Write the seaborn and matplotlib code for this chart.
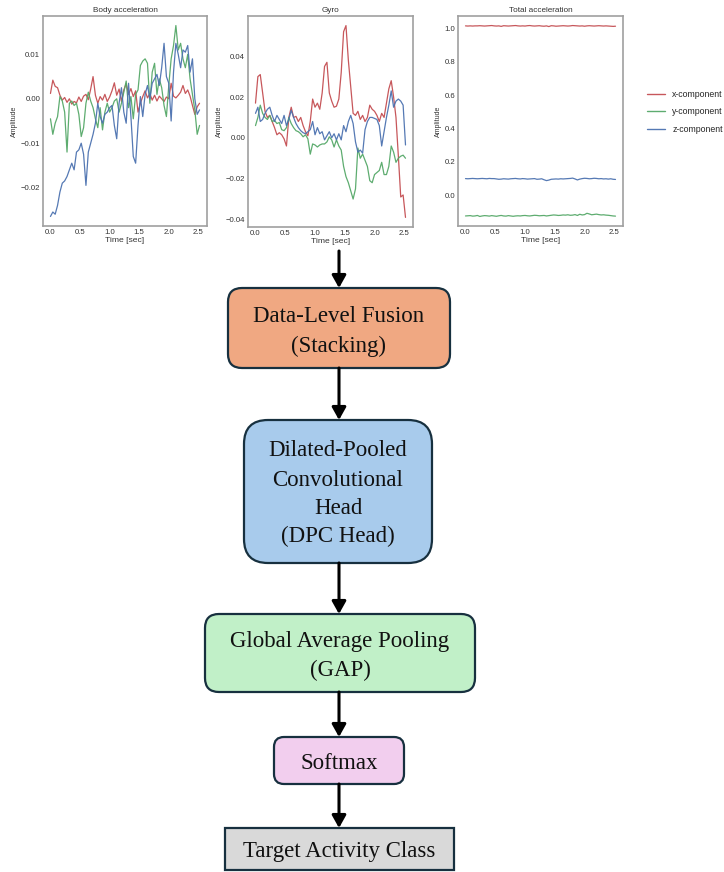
import numpy as np
import pandas as pd
import matplotlib
matplotlib.use("Agg")
import matplotlib.pyplot as plt
from matplotlib.patches import FancyBboxPatch, FancyArrowPatch
import seaborn as sns

# ---------------------------------------------------------------- data
# one window of 64 samples, 0.04 s apart
time_sec = np.round(np.arange(64) * 0.04, 2)

components = ["x-component", "y-component", "z-component"]

# body acceleration (values in 1e-3 g)
body_x = [1.2, 4.2, 2.8, 2.5, 0.8, -0.3, 0.3, -0.8, 0.0, -1.2, -0.6, -0.9, 0.4, -0.6, 0.6, 1.0,
          -0.2, 2.2, 5.0, 0.8, -1.0, 0.5, -0.3, 1.0, -0.6, 0.4, 1.8, 3.6, 0.8, 2.2, -0.6, 2.0,
          3.4, 1.0, 2.3, 0.5, 1.8, -3.0, -1.0, 0.5, 1.8, 0.2, 1.2, -0.3, 0.8, -0.5, 0.6, 0.0,
          -0.6, 0.4, 0.0, 3.5, 0.6, 0.2, 0.8, 1.5, 3.0, 1.2, 2.0, 0.6, -1.5, -3.5, -1.8, -1.0]
body_y = [-4.5, -8.0, -5.5, -4.0, 0.5, -0.5, -3.0, -12.0, -1.0, -0.5, -1.5, -1.0, -3.5, -8.5, -6.5, -1.0,
          1.5, -0.5, -2.0, -4.5, -6.5, -2.0, -7.0, -3.0, -1.0, -3.0, -2.0, -0.5, 0.0, -3.0, -1.0, 1.5,
          4.0, -2.0, 0.5, -4.5, 1.0, 2.0, 7.5, 8.5, 9.0, 8.0, -1.0, 6.0, 8.0, 1.0, 4.5, 2.5,
          -1.5, -4.0, 3.0, 9.0, 12.0, 16.5, 11.0, 12.5, 9.0, 7.0, 10.0, 4.5, 1.0, -2.5, -8.0, -6.0]
body_z = [-26.5, -25.5, -26.0, -24.0, -21.0, -19.0, -18.5, -17.5, -16.0, -14.5, -16.0, -12.0, -11.5, -10.0, -12.5, -19.5,
          -12.0, -10.0, -8.0, -5.5, -1.0, -4.0, -5.5, -3.5, -3.0, -2.0, -1.5, -6.0, -9.0, -1.0, 2.5, -3.0,
          -5.5, 3.5, -4.0, -13.0, -14.5, -6.0, 0.5, -4.0, 1.0, 3.0, 0.0, 3.5, 4.5, 5.5, 3.0, 7.0,
          12.5, 5.0, 3.5, -5.0, 6.0, 12.5, 10.0, 7.0, 11.0, 10.5, 12.0, 6.0, 9.0, 0.0, -3.5, -2.5]

# gyroscope (values in 1e-3 rad/s)
gyro_x = [17, 30, 31, 22, 13, 10, 11, 8, 5, 1.5, 2.5, 1.5, -0.5, -4.0, 10, 15,
          10, 10.5, 8, 10, 6, 3, 1, 8, 19, 15, 17, 14, 22, 35, 37, 22,
          18, 15, 15.5, 19, 32, 52, 55, 38, 25, 12, 11, 13, 9, 11, 8, 10,
          16, 14, 13, 11, 8, 12, 10, 17, 24, 28, 20, 10, -9, -29, -28, -39]
gyro_y = [6, 10, 16, 12, 10, 9, 11, 8, 8.5, 7, 7.5, 4, 3.5, 5, 10, 7,
          5, 3.5, 3, 2, 0.5, 1.5, -0.5, -8, -3, -3.5, -4.5, -3.5, -3, -3, -2, 0.5,
          -1, -4.5, -1, -4, -6, -14, -19, -22, -26, -30, -25, -5, -10, -8, -11, -14,
          -21, -22, -18, -17, -16, -12, -18, -18, -14, -4, -7, -12, -10, -9, -8.5, -10]
gyro_z = [12, 15, 8, 9, 12, 14, 15, 11, 8, 11, 9, 7, 11, 6, 9, 13.5,
          10, 7, 5, 3.5, 2.5, 2, 3, 4, 8, 1.5, 5, 2, 3, -1, 1, 3,
          0, 2, -1, 2, -1, 6, 3, 8, 11, 7, -2, -7, -6, -7.5, 4, 8,
          10, 10, 9.5, 9, 6, -4, 3, 10, 16, 23, 15, 18, 19, 18, 16, -3.5]

# total acceleration (g)
total_x = [1.016, 1.015, 1.016, 1.015, 1.016, 1.016, 1.017, 1.016, 1.015, 1.016, 1.017, 1.018, 1.016, 1.015, 1.016, 1.013,
           1.017, 1.016, 1.015, 1.016, 1.017, 1.018, 1.016, 1.015, 1.016, 1.015, 1.017, 1.018, 1.016, 1.015, 1.016, 1.017,
           1.015, 1.014, 1.016, 1.012, 1.017, 1.016, 1.014, 1.015, 1.016, 1.017, 1.016, 1.015, 1.016, 1.018, 1.017, 1.016,
           1.015, 1.016, 1.014, 1.016, 1.017, 1.016, 1.015, 1.016, 1.017, 1.016, 1.015, 1.016, 1.015, 1.014, 1.013, 1.014]
total_y = [-0.124, -0.123, -0.122, -0.125, -0.124, -0.121, -0.127, -0.124, -0.122, -0.123, -0.125, -0.122, -0.124, -0.126, -0.123, -0.121,
           -0.124, -0.125, -0.122, -0.124, -0.126, -0.124, -0.123, -0.124, -0.122, -0.121, -0.123, -0.124, -0.122, -0.120, -0.121, -0.123,
           -0.122, -0.121, -0.124, -0.122, -0.120, -0.118, -0.119, -0.121, -0.120, -0.118, -0.119, -0.117, -0.120, -0.119, -0.116, -0.121,
           -0.114, -0.118, -0.116, -0.108, -0.112, -0.117, -0.115, -0.113, -0.116, -0.118, -0.117, -0.119, -0.120, -0.122, -0.124, -0.125]
total_z = [0.100, 0.099, 0.100, 0.101, 0.100, 0.099, 0.100, 0.101, 0.100, 0.099, 0.101, 0.100, 0.100, 0.098, 0.096, 0.097,
           0.099, 0.098, 0.097, 0.099, 0.100, 0.101, 0.099, 0.098, 0.100, 0.099, 0.097, 0.098, 0.099, 0.100, 0.096, 0.097,
           0.099, 0.093, 0.088, 0.091, 0.096, 0.097, 0.098, 0.097, 0.099, 0.098, 0.099, 0.100, 0.101, 0.103, 0.098, 0.092,
           0.097, 0.100, 0.102, 0.101, 0.099, 0.100, 0.102, 0.101, 0.099, 0.100, 0.098, 0.099, 0.097, 0.099, 0.096, 0.095]

panel_titles = ["Body acceleration", "Gyro", "Total acceleration"]
panel_series = [
    [np.array(body_x) * 1e-3, np.array(body_y) * 1e-3, np.array(body_z) * 1e-3],
    [np.array(gyro_x) * 1e-3, np.array(gyro_y) * 1e-3, np.array(gyro_z) * 1e-3],
    [np.array(total_x), np.array(total_y), np.array(total_z)],
]

# pipeline stages below the signals
stage_lines = [
    ["Data-Level Fusion", "(Stacking)"],
    ["Dilated-Pooled", "Convolutional", "Head", "(DPC Head)"],
    ["Global Average Pooling", "(GAP)"],
    ["Softmax"],
    ["Target Activity Class"],
]

# ---------------------------------------------------------------- style
sns.set_theme(style="white")
plt.rcParams["font.family"] = ["Liberation Sans", "DejaVu Sans"]
palette = {"x-component": "#C44E52", "y-component": "#55A868", "z-component": "#4C72B0"}

W, H = 724, 872
fig = plt.figure(figsize=(W / 100, H / 100), dpi=100)

# axes rectangles in pixels: left, right, top, bottom
panel_px = [(43, 207, 16, 226), (248, 413, 16, 227), (458, 623, 16, 226)]

handles = labels = None
for i, (title, series) in enumerate(zip(panel_titles, panel_series)):
    l, r, t, b = panel_px[i]
    ax = fig.add_axes([l / W, 1 - b / H, (r - l) / W, (b - t) / H])
    frame = pd.DataFrame({
        "Time [sec]": np.tile(time_sec, 3),
        "Amplitude": np.concatenate(series),
        "component": np.repeat(components, len(time_sec)),
    })
    sns.lineplot(data=frame, x="Time [sec]", y="Amplitude", hue="component",
                 palette=palette, estimator=None, linewidth=0.9, alpha=0.95,
                 ax=ax, legend=(i == 2))
    ax.set_title(title, fontsize=5.9, pad=3, color="#333333")
    ax.set_xlabel("Time [sec]", fontsize=6.1, labelpad=1, color="#333333")
    ax.set_ylabel("Amplitude", fontsize=5, labelpad=2, color="#333333")
    ax.tick_params(labelsize=5.6, length=0, pad=2, colors="#333333")
    for sp in ax.spines.values():
        sp.set_color("#a0a0a0")
        sp.set_linewidth(1.2)
    if i == 2:
        handles, labels = ax.get_legend_handles_labels()
        ax.get_legend().remove()

leg = fig.legend(handles, labels, loc="center left",
                 bbox_to_anchor=(639 / W, 1 - 112 / H), frameon=False,
                 fontsize=6.3, handlelength=2.1, handletextpad=0.8, labelspacing=1.0)
for line in leg.get_lines():
    line.set_linewidth(1.0)

# ---------------------------------------------------------------- flow chart
fc = fig.add_axes([0, 0, 1, 1])
fc.set_xlim(0, W)
fc.set_ylim(0, H)
fc.axis("off")

def Y(y):
    return H - y

boxes = [
    # x0, x1, top, bottom, corner radius, fill
    (228, 450, 288, 368, 14, "#F0A882"),
    (244, 432, 420, 563, 24, "#A8CBEC"),
    (205, 475, 614, 692, 14, "#C1F0C8"),
    (274, 404, 737, 784, 10, "#F2CEEE"),
    (225, 454, 828, 870, 0, "#D9D9D9"),
]
line_y = [[315, 345], [449, 479, 507, 535], [640, 669], [762], [850]]

for (x0, x1, top, bot, rad, col), lines, ys in zip(boxes, stage_lines, line_y):
    style = f"round,pad=0,rounding_size={rad}" if rad else "square,pad=0"
    fc.add_patch(FancyBboxPatch((x0, Y(bot)), x1 - x0, bot - top, boxstyle=style,
                                facecolor=col, edgecolor="#17303f", linewidth=1.6))
    for txt, yy in zip(lines, ys):
        fc.text((x0 + x1) / 2, Y(yy + 1.5), txt, ha="center", va="center",
                fontsize=16.5, family=["Liberation Serif", "DejaVu Serif"], color="#111111")

arrow_x = 339
arrows = [(251, 288), (368, 420), (563, 614), (692, 737), (784, 828)]
for y0, y1 in arrows:
    fc.add_patch(FancyArrowPatch((arrow_x, Y(y0)), (arrow_x, Y(y1)),
                                 arrowstyle="-|>,head_length=0.75,head_width=0.42",
                                 mutation_scale=10, linewidth=2.2, color="black",
                                 shrinkA=0, shrinkB=0))

fig.savefig("out.png", dpi=100)
